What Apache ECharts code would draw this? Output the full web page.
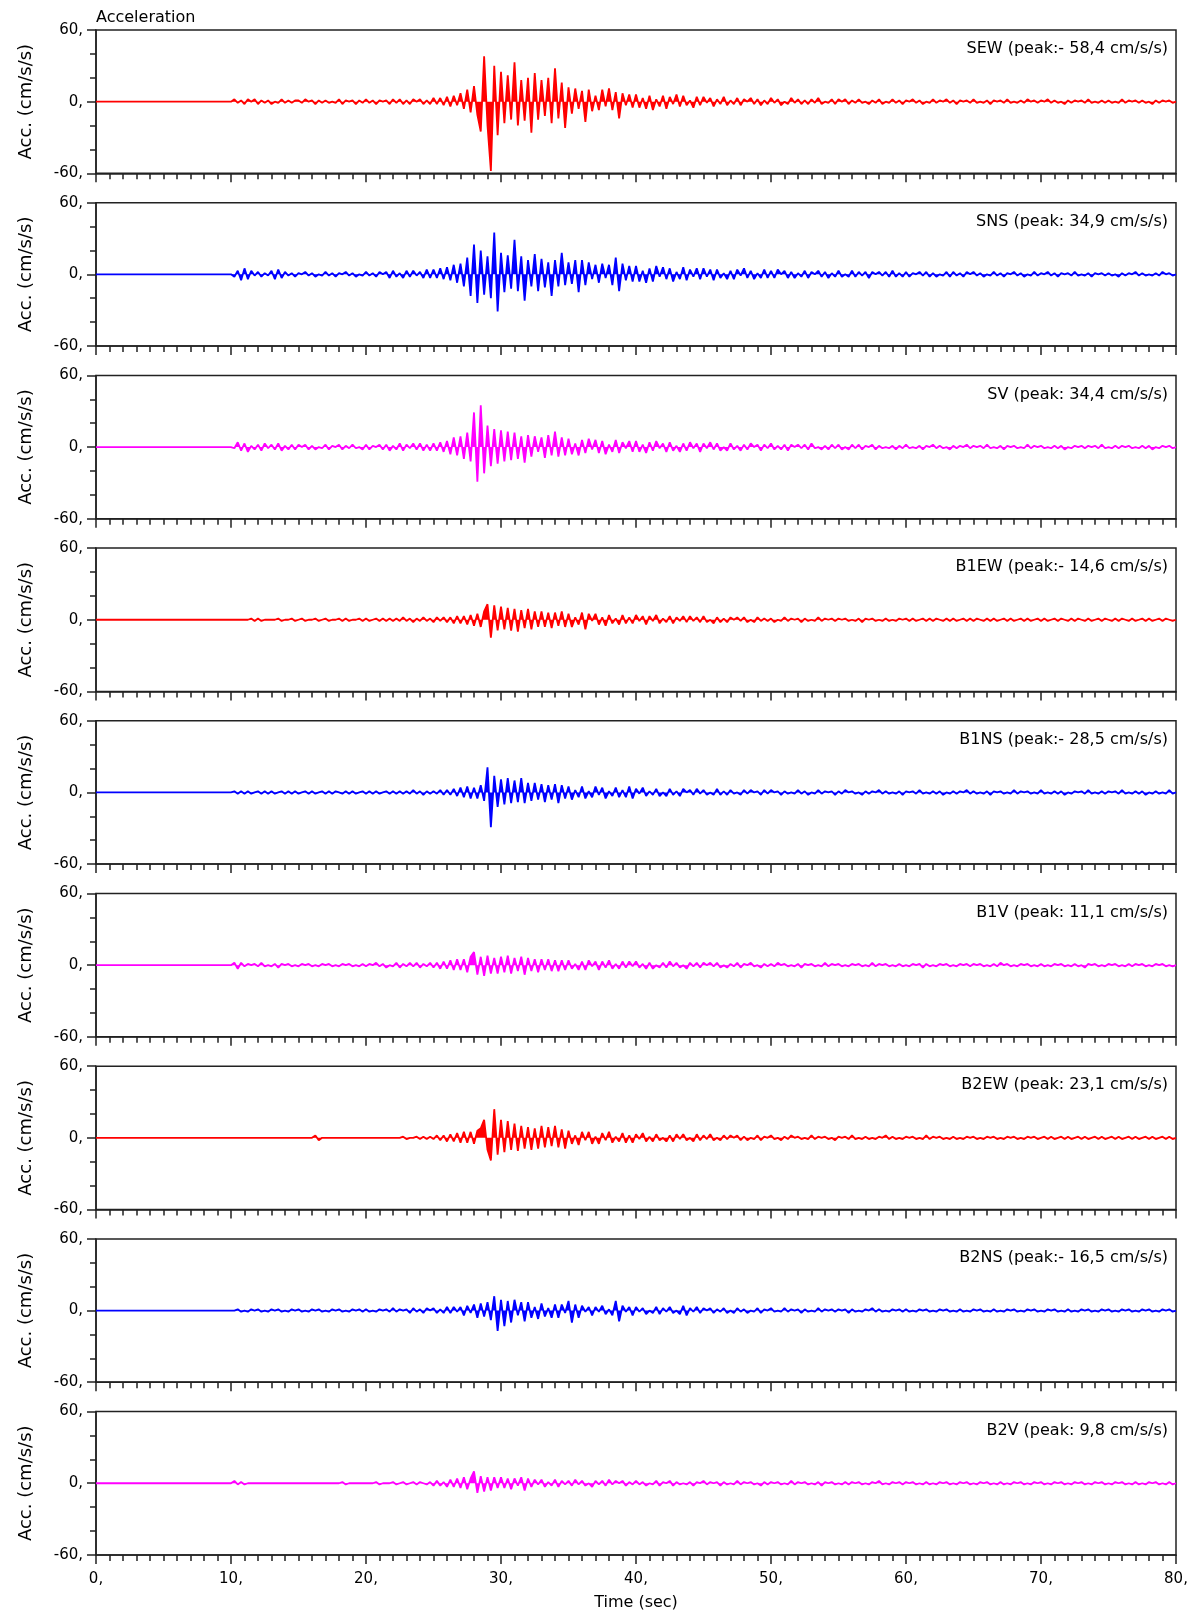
<!DOCTYPE html>
<html><head><meta charset="utf-8">
<script src="https://cdn.jsdelivr.net/npm/echarts@6/dist/echarts.min.js"></script>
<style>html,body{margin:0;padding:0;background:#fff}#c{width:1193px;height:1615px}</style>
</head><body><div id="c"></div><script>
// Channel names and peak annotations
const channels = ['SEW','SNS','SV','B1EW','B1NS','B1V','B2EW','B2NS','B2V'];
const peakLabels = [
  'SEW (peak:- 58,4 cm/s/s)','SNS (peak: 34,9 cm/s/s)','SV (peak: 34,4 cm/s/s)',
  'B1EW (peak:- 14,6 cm/s/s)','B1NS (peak:- 28,5 cm/s/s)','B1V (peak: 11,1 cm/s/s)',
  'B2EW (peak: 23,1 cm/s/s)','B2NS (peak:- 16,5 cm/s/s)','B2V (peak: 9,8 cm/s/s)'
];
// Axis ticks
const xTicks = [0,10,20,30,40,50,60,70,80];
const yTicks = [-60,0,60];
// Sampling of the read values: start time (s) and step (s); before T_START the record is 0
const T_START = 10, DT = 0.25;

// Acceleration values (cm/s/s) read from the records, 10 s .. 80 s every 0.25 s
const SEW = [
0,2,-1,1,-2,2,0,2,-2,1,-1,1,-2,0,-1,2,-1,1,-1,1,
1,-1,2,0,1,-2,1,-1,1,-1,0,-1,2,-2,1,0,1,-2,1,-1,
2,-1,1,-2,1,0,1,-2,2,-1,2,-2,1,-2,2,0,2,-2,1,-2,
3,-2,3,-3,4,-4,5,-3,7,-6,10,-9,13,-11,-25,38,-20,-58,30,-28,
25,-18,22,-15,33,-20,18,-16,20,-26,24,-15,18,-12,20,-18,28,-14,16,-22,
12,-10,11,-6,9,-17,10,-8,5,-7,10,-4,11,-7,8,-14,7,-3,6,-5,
6,-5,3,-6,5,-7,2,-4,5,-6,4,-2,6,-4,5,-3,1,-5,4,-3,
4,-1,3,-4,2,-2,4,-3,1,-2,3,-3,2,0,3,-2,2,-3,1,-2,
3,-1,2,-3,0,-2,3,-1,2,-2,1,-2,2,-1,3,-2,0,-1,2,-2,
2,0,2,-2,1,-1,2,-1,0,-2,1,-1,2,-2,0,-1,2,-1,1,-2,
1,0,2,-1,1,-2,0,-1,2,-1,1,0,2,-1,1,-2,1,0,1,-1,
2,-1,0,-1,1,-2,1,0,1,-1,2,-1,0,-1,1,-1,2,0,1,-1,
1,0,2,-1,1,-1,0,-2,1,-1,1,0,1,-1,2,-1,0,-1,1,-1,
1,-1,0,-1,2,-1,1,0,1,-1,1,-1,0,-2,1,-1,1,0,1,-1,
0];
const SNS = [
0,-2,3,-5,5,-4,3,-1,2,-2,1,-1,3,-4,4,-3,2,-1,1,-2,
1,0,2,-1,1,-2,0,-1,2,-1,1,-2,1,0,2,-1,1,-2,0,-1,
2,-1,1,-2,2,0,2,-3,3,-2,1,-3,3,-2,3,-1,2,-3,4,-3,
4,-3,5,-4,6,-5,8,-7,9,-10,14,-18,25,-24,20,-17,15,-20,35,-31,
18,-15,16,-12,29,-14,15,-22,12,-10,17,-14,13,-11,10,-18,12,-10,18,-9,
10,-8,12,-15,12,-9,10,-4,8,-7,9,-3,8,-9,14,-14,9,-5,7,-6,
7,-6,3,-7,5,-6,7,-2,6,-4,5,-6,2,-4,6,-5,4,-2,5,-4,
5,-2,4,-5,4,-3,1,-4,3,-4,4,-1,5,-3,3,-4,1,-3,4,-3,
3,-3,4,0,3,-3,2,-3,1,-2,3,-3,2,0,3,-2,2,-3,1,-2,
3,-2,0,-2,3,-2,2,-1,2,-3,2,0,2,-1,2,-2,3,-2,1,-2,
2,-2,1,0,2,-1,2,-2,1,-2,0,-1,2,-2,2,-1,1,-2,2,0,
2,-1,1,-2,0,-1,2,-1,1,-2,1,0,2,-1,1,-2,0,-1,2,-1,
1,0,2,-1,1,-2,1,0,1,-1,2,-1,0,-1,1,-2,1,0,1,-1,
1,-1,0,-2,1,-1,1,0,2,-1,1,-1,0,-1,1,-1,2,0,1,-1,
0];
const SV = [
0,-1,4,-3,3,-4,1,-2,2,-3,3,-1,2,-2,3,-3,1,-2,2,-2,
2,0,2,-2,1,-2,0,-1,2,-2,1,0,2,-2,1,-1,2,-1,0,-2,
2,-2,1,0,2,-2,2,-3,1,-2,3,-3,2,-1,3,-2,3,-3,2,-3,
3,-3,4,-4,5,-6,8,-7,9,-10,12,-12,29,-29,35,-22,18,-16,15,-14,
14,-12,13,-11,12,-10,9,-13,10,-8,9,-4,8,-9,10,-7,13,-8,8,-7,
7,-6,3,-7,6,-5,7,-2,6,-5,5,-6,2,-4,6,-5,4,-1,5,-4,
5,-4,2,-5,4,-3,5,-1,3,-4,4,-3,1,-4,3,-3,4,-1,3,-4,
3,-1,4,-2,3,-3,0,-3,3,-2,1,-3,2,-2,3,0,2,-3,2,-1,
3,-2,1,-2,2,-3,2,0,2,-1,2,-2,3,-1,0,-2,1,-2,2,-1,
2,-2,0,-2,2,-1,2,-2,1,0,2,-2,1,-1,0,-1,1,-2,1,-1,
2,-1,0,-1,1,-2,1,0,2,-1,1,-1,0,-2,1,-1,1,0,2,-1,
1,0,1,-1,2,-1,0,-1,1,-2,1,0,1,-1,0,-1,2,-1,1,0,
1,-1,0,-1,1,-1,1,-2,0,-1,1,0,1,-1,1,0,1,-1,2,-1,
0,-1,1,-1,1,0,1,-1,0,-1,1,-1,1,-2,0,-1,1,0,1,-1,
0];
const B1EW = [
0,0,0,0,0,0,1,-1,1,-1,0,0,0,0,1,-1,0,0,1,-1,
0,1,-1,0,0,1,-1,0,1,-1,0,0,1,-1,1,-1,0,0,1,-1,
1,-1,0,1,-1,1,-1,1,-1,1,-1,2,-1,1,-2,1,-1,2,-1,1,
-2,2,-1,2,-2,2,-3,3,-3,3,-4,4,-5,5,-6,7,13,-15,12,-9,
11,-8,10,-9,9,-10,8,-7,9,-8,7,-6,7,-6,6,-7,6,-5,7,-6,
5,-6,2,-4,6,-8,5,-1,5,-4,2,-5,4,-3,1,-4,4,-3,2,-3,
4,-1,3,-4,3,-1,4,-3,1,-2,3,-3,2,-1,3,-2,3,-1,2,-2,
3,-2,0,-3,2,-2,1,-2,2,0,2,-1,2,-2,0,-2,2,-1,1,-1,
1,-2,0,-1,2,-1,1,0,1,-2,1,-1,0,-1,2,-1,1,0,1,-1,
1,0,1,-1,0,-1,1,-2,1,0,1,-1,0,-1,1,-1,0,-1,1,0,
1,-1,1,-1,0,1,-1,1,-1,1,0,-1,1,-1,1,-1,0,1,-1,1,
-1,1,0,-1,1,-1,1,-1,0,1,-1,1,-1,0,1,-1,1,-1,0,1,
-1,1,-1,0,1,-1,1,0,-1,1,-1,1,0,-1,1,-1,0,1,-1,1,
0,-1,1,-1,1,0,-1,1,-1,0,1,-1,1,-1,0,1,-1,1,0,-1,
0];
const B1NS = [
0,1,-1,1,-1,1,-1,0,1,-1,1,-1,1,-1,0,1,-1,1,-1,1,
-1,0,1,-1,1,-1,0,1,-1,1,-1,1,0,-1,1,-1,1,-1,0,1,
-1,1,-1,1,-1,0,1,-1,1,-1,1,-1,1,-1,2,-1,1,-2,1,-1,
1,-1,2,-2,2,-2,3,-3,4,-4,5,-5,4,-5,6,-7,21,-29,14,-12,
11,-10,12,-9,10,-8,12,-9,8,-7,8,-6,7,-8,6,-6,7,-9,6,-5,
5,-6,2,-4,5,-5,1,-4,5,-2,4,-5,1,-3,4,-4,2,-4,5,-5,
3,-1,4,-3,1,-2,3,-3,0,-3,3,-2,1,-3,3,0,2,-2,3,-1,
2,-2,0,-2,3,-2,1,-2,2,-1,0,-2,2,-1,2,0,1,-2,2,-1,
2,0,1,-2,1,-1,0,-1,2,-1,1,-2,0,-1,2,-1,1,0,1,-2,
1,-1,2,0,1,-1,0,-2,1,-1,1,0,2,-1,1,-1,0,-1,1,-2,
1,0,1,-1,2,-1,0,-1,1,-1,1,-2,0,-1,1,-1,1,0,2,-1,
1,-1,0,-1,1,-2,1,0,1,-1,0,-1,2,-1,1,0,1,-1,0,-1,
2,-1,0,-1,1,-1,1,-2,0,-1,1,0,1,-1,2,-1,0,-1,1,-1,
1,0,1,-1,2,-1,0,-1,1,-1,1,-2,0,-1,1,-1,0,-1,2,-1,
0];
const B1V = [
0,2,-3,2,-1,1,0,1,-1,2,-1,0,-1,1,-2,1,0,1,-1,0,
-1,1,0,1,-1,0,-1,1,0,1,-1,0,-1,1,0,1,-1,0,-1,1,
-1,1,0,2,-1,1,-2,0,-1,2,-2,1,-1,2,-1,2,-2,1,-1,2,
-2,2,-3,3,-3,4,-4,5,-4,5,-6,7,11,-8,7,-9,8,-7,6,-7,
7,-6,8,-7,6,-5,7,-8,6,-5,5,-6,5,-4,5,-5,4,-5,4,-4,
4,-3,1,-4,3,-4,4,-1,3,-4,3,-2,4,-3,1,-3,3,-2,3,-1,
3,-2,1,-3,2,-3,0,-2,2,-2,3,-1,2,-2,0,-3,2,-1,2,-2,
2,0,2,-1,2,-2,0,-2,1,-1,2,-2,1,0,2,-1,0,-2,1,-1,
1,-1,2,0,1,-1,0,-1,1,-2,1,0,1,-1,0,-1,2,-1,1,0,
1,-1,0,-1,1,0,1,-1,0,-1,2,-1,1,0,1,-1,0,-1,1,-1,
0,-1,1,0,1,-2,1,-1,0,-1,1,0,1,-1,0,-1,1,0,1,-1,
1,0,1,-1,0,-1,1,-1,2,0,1,-1,0,-1,1,0,1,-1,0,-1,
1,-1,0,-1,1,0,1,-1,0,-1,1,-1,0,-2,1,0,1,-1,0,-1,
1,0,1,-1,0,-1,1,-1,1,0,1,-1,0,-1,1,0,1,-1,0,-1,
0];
const B2EW = [
0,0,0,0,0,0,0,0,0,0,0,0,0,0,0,0,0,0,0,0,
0,0,0,0,0,2,-2,0,0,0,0,0,0,0,0,0,0,0,0,0,
0,0,0,0,0,0,0,0,0,0,0,1,-1,0,0,1,-1,1,-1,1,
-1,2,-2,2,-3,3,-3,4,-4,5,-4,5,-5,6,8,15,-10,-19,24,-14,
15,-12,14,-10,12,-11,10,-9,9,-10,8,-9,10,-8,9,-7,10,-8,7,-9,
6,-5,2,-6,5,-2,5,-5,1,-5,4,-2,5,-4,1,-3,4,-4,2,-4,
3,-1,4,-3,1,-3,3,-2,0,-3,2,-3,3,-1,3,-2,0,-3,3,-2,
2,-1,3,-2,0,-2,2,-1,2,0,2,-2,1,-2,0,-1,2,-2,1,0,
2,-1,0,-2,1,-1,2,0,1,-1,0,-1,2,-1,1,0,1,-1,0,-2,
1,0,1,-1,2,-1,0,-1,1,-1,0,-1,1,0,2,-1,1,-1,0,-1,
1,0,1,-1,0,-1,2,-1,1,0,1,-1,0,-1,1,-1,0,-1,1,0,
1,-1,0,-1,1,0,1,-1,0,-1,1,0,1,-1,0,-1,1,0,1,-1,
0,1,-1,1,-1,0,1,-1,1,-1,0,1,-1,1,-1,0,1,-1,1,-1,
0,1,-1,1,-1,0,1,-1,1,-1,0,1,-1,1,-1,0,1,-1,1,-1,
0];
const B2NS = [
0,0,1,-1,0,-1,1,0,1,-1,0,-1,1,0,1,-1,0,-1,1,0,
1,-1,0,-1,1,0,1,-1,0,-1,1,0,1,-1,0,-1,1,0,1,-1,
1,-1,0,-1,1,0,1,-1,2,-1,1,0,1,-2,2,-1,1,-2,2,0,
2,-2,1,-2,3,-2,3,-1,3,-4,4,-2,5,-6,6,-5,7,-8,12,-17,
9,-13,8,-10,9,-4,7,-9,7,-6,3,-7,6,-5,2,-6,5,-6,5,-2,
8,-10,5,-6,4,-1,3,-4,3,-1,4,-3,1,-4,8,-9,4,-1,3,-4,
3,-1,2,-3,0,-2,3,-3,2,-1,3,-2,0,-3,4,-4,2,-1,3,-2,
2,0,2,-2,1,-1,2,-2,0,-2,2,-1,1,-2,0,-1,2,-2,1,0,
2,-1,0,-1,2,-1,1,0,1,-2,1,-1,0,-1,2,-1,1,0,1,-1,
1,0,1,-2,1,-1,0,-1,1,0,2,-1,1,-1,0,-1,1,0,1,-1,
1,-1,0,-1,1,0,1,-1,0,-1,1,0,1,-1,0,-1,1,-1,0,-1,
1,0,1,-1,0,-1,1,-1,0,-1,1,0,1,-1,0,-1,1,0,1,-1,
0,-1,1,0,1,-1,0,-1,1,-1,0,-1,1,0,1,-1,0,-1,1,0,
1,-1,0,-1,1,0,1,-1,0,-1,1,0,1,-1,0,-1,1,0,1,-1,
0];
const B2V = [
0,2,-1,1,-1,0,0,0,0,0,0,0,0,0,0,0,0,0,0,0,
0,0,0,0,0,0,0,0,0,0,0,0,0,1,-1,0,0,0,0,0,
0,0,0,1,-1,0,0,0,1,-1,0,1,-1,0,1,-1,1,0,-1,1,
-2,2,-2,1,-3,3,-3,4,-4,5,-5,4,10,-8,6,-7,5,-6,5,-4,
5,-4,4,-5,4,-2,5,-6,4,-3,3,-1,3,-3,1,-2,3,-3,2,-1,
2,-2,3,-1,2,-2,0,-3,2,-1,2,-2,3,-1,2,0,2,-2,1,-1,
2,-1,1,-2,0,-1,2,-2,1,0,2,-2,1,-1,0,-1,1,-2,1,0,
2,-1,1,0,1,-2,1,-1,0,-1,2,-1,1,0,1,-1,0,-2,1,-1,
1,0,1,-1,0,-1,2,-1,1,0,1,-1,0,-1,1,-2,1,0,1,-1,
0,-1,1,-1,1,0,1,-1,0,-1,1,0,2,-1,0,-1,1,0,1,-1,
1,0,1,-1,0,-1,1,-1,0,-1,1,0,1,-1,0,-1,1,0,1,-1,
0,-1,1,0,1,-1,0,-1,1,-1,0,-1,1,0,1,-1,0,-1,1,0,
1,-1,0,-1,1,0,1,-1,0,-1,1,0,1,-1,0,-1,1,0,1,-1,
0,-1,1,0,1,-1,0,-1,1,-1,0,-1,1,0,1,-1,0,-1,1,-1,
0];

const records = [SEW, SNS, SV, B1EW, B1NS, B1V, B2EW, B2NS, B2V];
const lineColors = ['#ff0000','#0000ff','#ff00ff','#ff0000','#0000ff','#ff00ff','#ff0000','#0000ff','#ff00ff'];

const FONT = 'DejaVu Sans';
const GRID_LEFT = 96, GRID_W = 1080, GRID_TOP = 30, GRID_H = 143.3, PITCH = 172.7;
const n = channels.length;

const grids = [], xAxes = [], yAxes = [], series = [], titles = [];
titles.push({text:'Acceleration', left: GRID_LEFT, top: 10, padding: 0,
  textStyle:{fontFamily:FONT, fontSize:16, fontWeight:'normal', color:'#000'}});

for (let i = 0; i < n; i++) {
  const top = GRID_TOP + i * PITCH;
  const last = i === n - 1;
  grids.push({left: GRID_LEFT, width: GRID_W, top: top, height: GRID_H,
    show: true, borderColor: '#222', borderWidth: 1.5, backgroundColor: 'transparent'});
  xAxes.push({
    type: 'value', gridIndex: i, min: xTicks[0], max: xTicks[xTicks.length-1], interval: 10,
    position: 'bottom',
    axisLine: {show: true, onZero: false, lineStyle: {color: '#222', width: 1.5}},
    axisTick: {show: true, inside: false, length: 9, lineStyle: {color: '#222', width: 1.5}},
    minorTick: {show: true, splitNumber: 10, length: 6, lineStyle: {color: '#222', width: 1.5}},
    splitLine: {show: false},
    axisLabel: {show: last, margin: 17, fontFamily: FONT, fontSize: 15, color: '#000',
      formatter: v => v + ','},
    name: last ? 'Time (sec)' : '', nameLocation: 'middle', nameGap: 40,
    nameTextStyle: {fontFamily: FONT, fontSize: 16, color: '#000'}
  });
  yAxes.push({
    type: 'value', gridIndex: i, min: yTicks[0], max: yTicks[yTicks.length-1], interval: 60,
    axisLine: {show: true, onZero: false, lineStyle: {color: '#222', width: 1.5}},
    axisTick: {show: true, inside: false, length: 9, lineStyle: {color: '#222', width: 1.5}},
    minorTick: {show: true, splitNumber: 3, length: 6, lineStyle: {color: '#222', width: 1.5}},
    splitLine: {show: false},
    axisLabel: {margin: 13, fontFamily: FONT, fontSize: 15, color: '#000', formatter: v => v + ','},
    name: 'Acc. (cm/s/s)', nameLocation: 'middle', nameRotate: 90, nameGap: 61,
    nameTextStyle: {fontFamily: FONT, fontSize: 18, color: '#000'}
  });
  const vals = records[i];
  const data = [[0, 0]];
  vals.forEach((v, k) => data.push([T_START + k * DT, v]));
  series.push({
    name: channels[i], type: 'line', xAxisIndex: i, yAxisIndex: i, data: data,
    symbol: 'none', silent: true, animation: false,
    lineStyle: {color: lineColors[i], width: 1.8},
    areaStyle: {color: lineColors[i], opacity: 1, origin: 0}
  });
  titles.push({text: peakLabels[i], right: 1193 - 1168, top: top + 11, padding: 0,
    textStyle: {fontFamily: FONT, fontSize: 16, fontWeight: 'normal', color: '#000'}});
}

const chart = echarts.init(document.getElementById('c'), null, {renderer: 'canvas'});
chart.setOption({
  backgroundColor: '#fff', animation: false,
  title: titles, grid: grids, xAxis: xAxes, yAxis: yAxes, series: series
});
</script></body></html>
